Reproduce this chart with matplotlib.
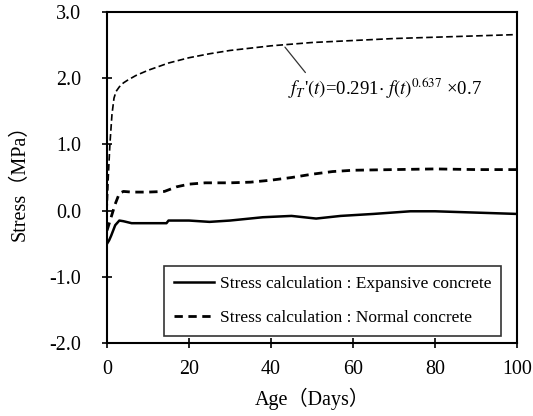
import matplotlib
matplotlib.use("Agg")
import matplotlib.pyplot as plt

plt.rcParams['font.family'] = ['Liberation Serif', 'Noto Sans CJK JP']
plt.rcParams['mathtext.fontset'] = 'stix'

# Data
t_ft = [0, 0.3, 0.7, 1.2, 1.7, 2.2, 3, 4, 5, 7, 10, 15, 20, 25, 30, 40, 50, 60, 70, 80, 90, 100]
ft = [0.0, 0.5, 1.0, 1.45, 1.7, 1.8, 1.87, 1.93, 1.97, 2.04, 2.12, 2.23, 2.31, 2.37, 2.42, 2.49, 2.54, 2.57, 2.6, 2.62, 2.64, 2.66]

t_exp = [0, 0.5, 1, 2, 3, 4, 6, 8, 10, 14.5, 15, 20, 25, 30, 38, 45, 51, 57, 65, 74, 80, 90, 100]
s_exp = [-0.5, -0.45, -0.38, -0.22, -0.15, -0.16, -0.19, -0.19, -0.19, -0.19, -0.15, -0.15, -0.17, -0.15, -0.1, -0.08, -0.12, -0.08, -0.05, -0.01, -0.01, -0.03, -0.05]

t_nor = [0, 0.5, 1, 2, 3, 4, 6, 10, 14, 17, 20, 24, 30, 35, 40, 45, 50, 55, 60, 70, 80, 90, 100]
s_nor = [-0.3, -0.2, -0.1, 0.1, 0.26, 0.29, 0.28, 0.28, 0.29, 0.36, 0.4, 0.42, 0.42, 0.43, 0.46, 0.5, 0.55, 0.59, 0.61, 0.62, 0.63, 0.62, 0.62]

xticks = [0, 20, 40, 60, 80, 100]
yticks = [-2.0, -1.0, 0.0, 1.0, 2.0, 3.0]

fig = plt.figure(figsize=(5.33, 4.16), dpi=100)
ax = fig.add_axes([0.2008, 0.1755, 0.7692, 0.7955])

ax.plot(t_ft, ft, color='black', lw=1.2, ls=(0, (4, 2)))
ax.plot(t_exp, s_exp, color='black', lw=1.8, ls='-', label='Stress calculation : Expansive concrete')
ax.plot(t_nor, s_nor, color='black', lw=2.0, ls=(0, (3, 2)), label='Stress calculation : Normal concrete')

ax.set_xlim(0, 100)
ax.set_ylim(-2.0, 3.0)
ax.set_xticks(xticks)
ax.set_xticklabels([f"{v:d}" for v in xticks])
ax.set_yticks(yticks)
ax.set_yticklabels([f"{v:.1f}" for v in yticks])
ax.tick_params(direction='inout', length=7, width=1.2, labelsize=14.4, colors='black')
ax.tick_params(axis='y', pad=15)
ax.tick_params(axis='x', pad=9)
for s in ax.spines.values():
    s.set_linewidth(1.5)

ax.set_xlabel('Age（Days）', fontsize=14.5, labelpad=6)
ax.set_ylabel('Stress（MPa）', fontsize=14.5, labelpad=14)

ax.annotate(r"$f_T$'$(t)$=0.291$\cdot$ $f(t)^{0.637}$ ×0.7",
            xy=(43.4, 2.47), xytext=(44.2, 1.85), fontsize=13.5,
            va='center', ha='left',
            arrowprops=dict(arrowstyle='-', color='#333333', lw=0.9,
                            shrinkA=0, shrinkB=0, relpos=(0.1, 1.0)))

leg = ax.legend(loc='lower right', bbox_to_anchor=(0.962, 0.021), borderaxespad=0,
                fontsize=12.5, frameon=True, fancybox=False, edgecolor='black',
                handlelength=2.3, handletextpad=0.3, borderpad=0.6, labelspacing=1.0)
leg.get_frame().set_linewidth(1.2)

fig.savefig('out.png', dpi=100)
